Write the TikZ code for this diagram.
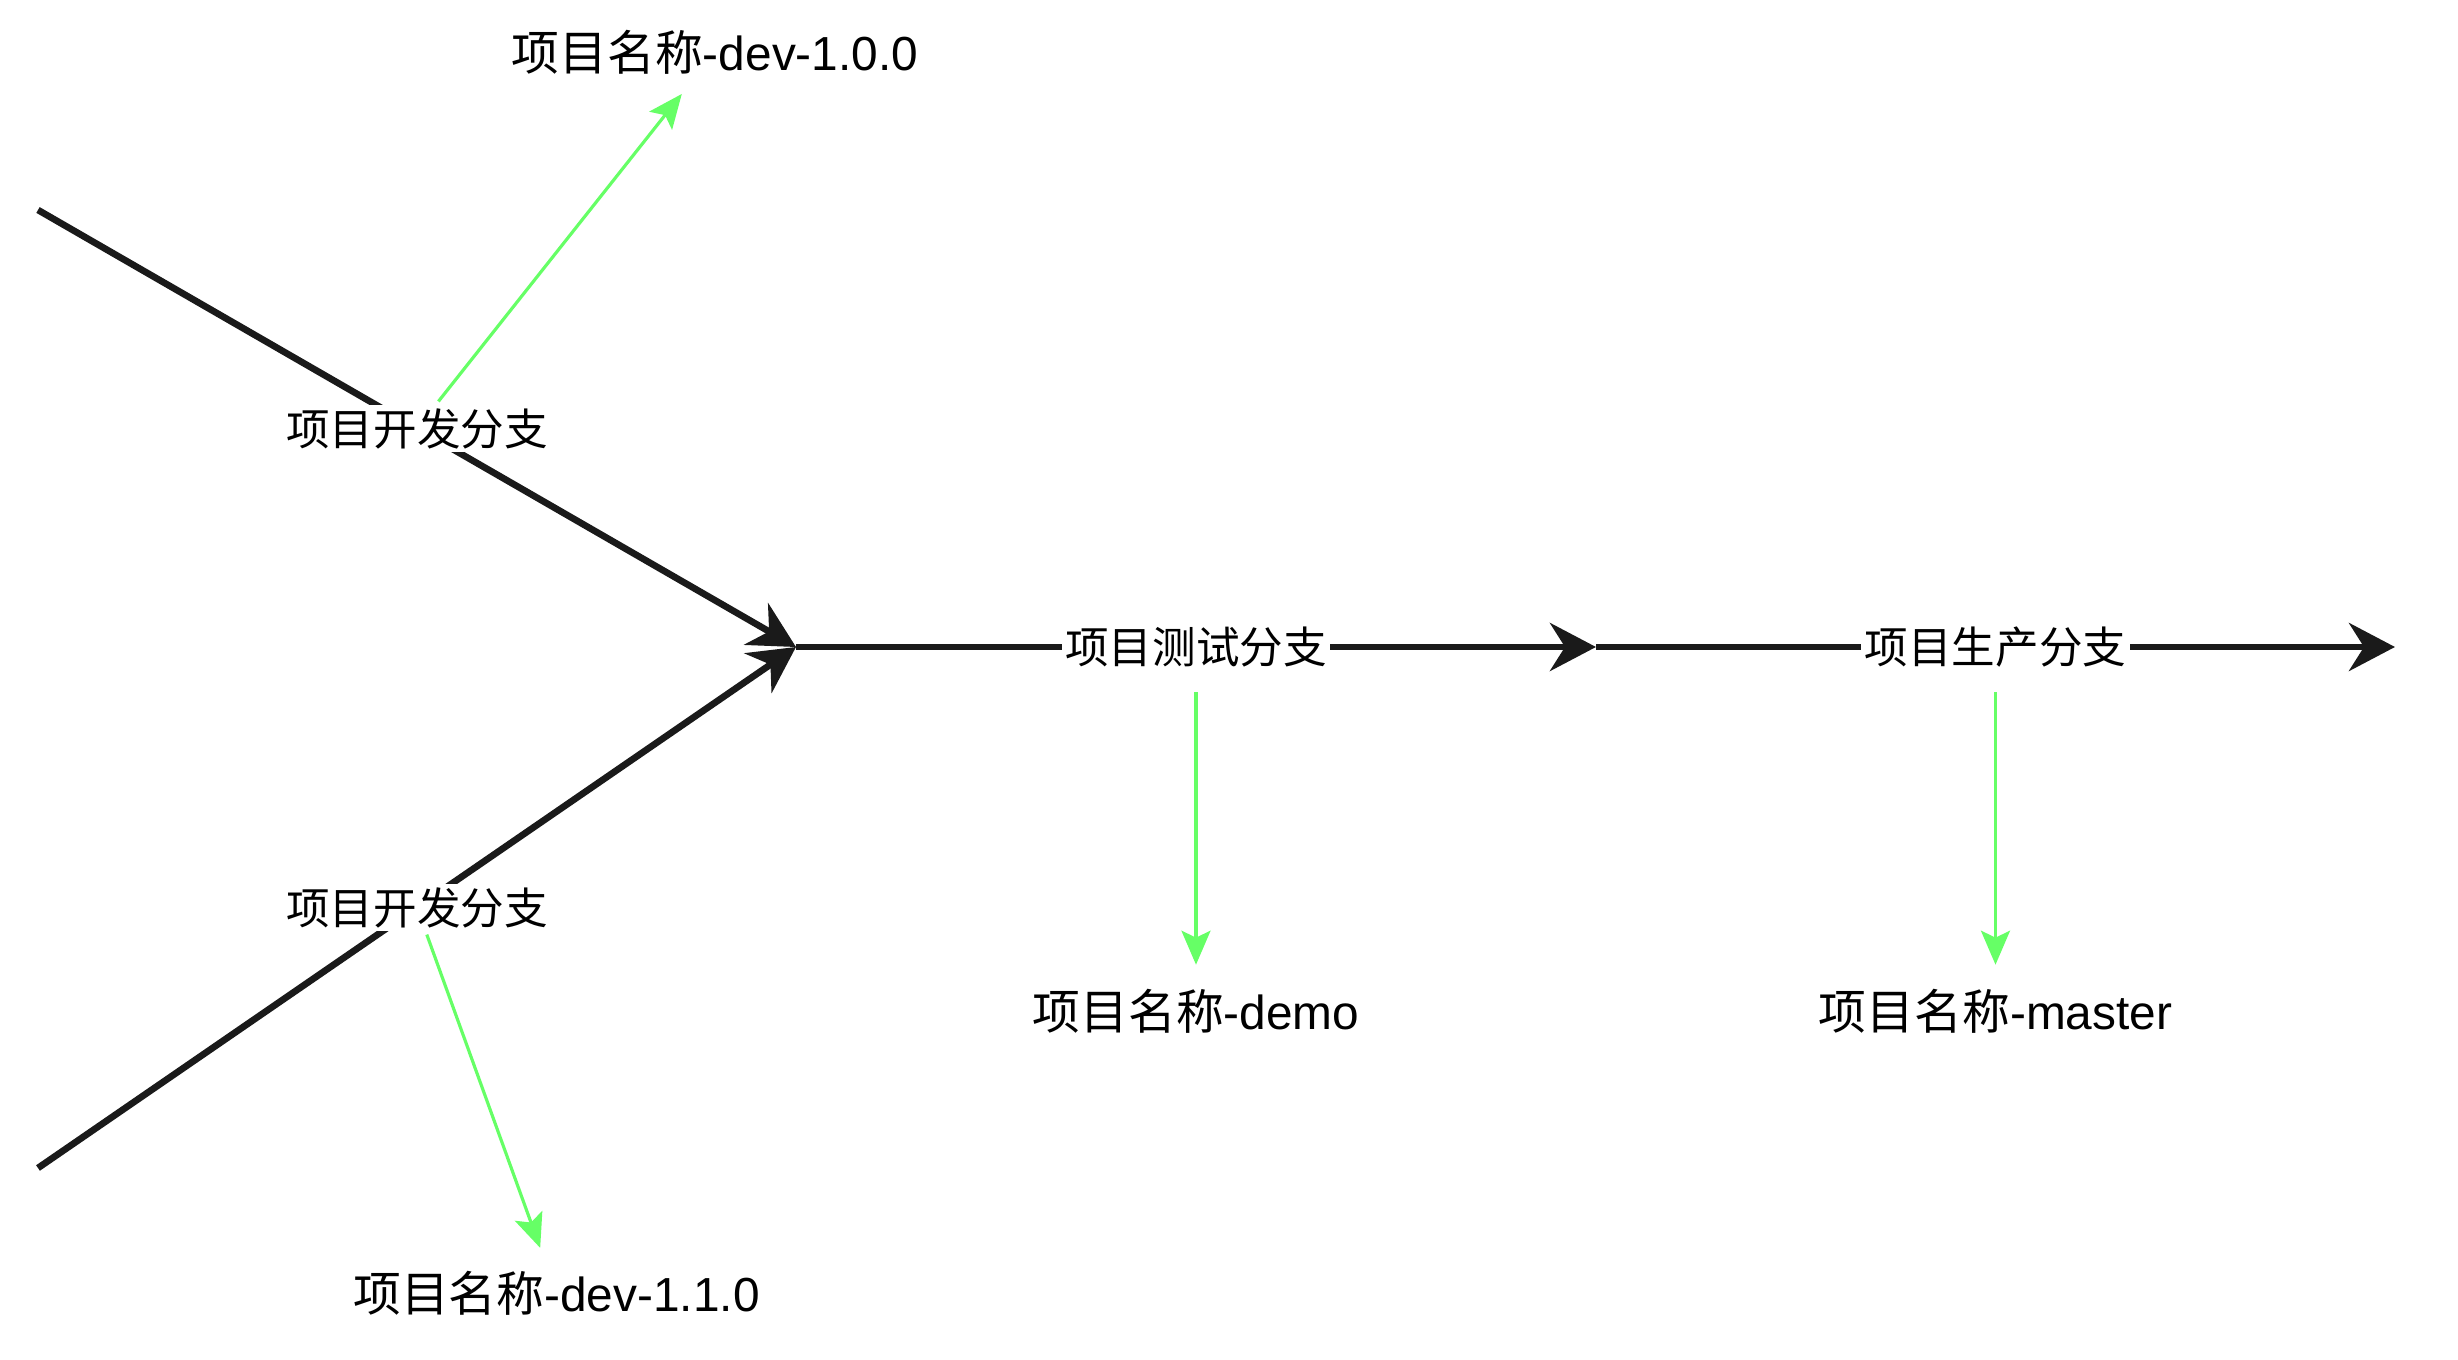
\documentclass[tikz,border=0pt]{standalone}
\usepackage{fontspec}
\setmainfont{Liberation Sans}
\newfontfamily\cjk{Noto Sans CJK SC}
\usetikzlibrary{arrows.meta}
\definecolor{linegray}{RGB}{26,26,26}
\definecolor{taggreen}{RGB}{102,255,102}
\tikzset{
  branch/.style={-{Stealth[length=4.6mm,width=4.8mm,inset=1.5mm]}, line width=1.9pt, linegray},
  vtag/.style={-{Stealth[length=3.4mm,width=2.9mm,inset=0.7mm]}, line width=0.9pt, taggreen, shorten >=2mm},
  lbl/.style={fill=white, inner sep=1pt, text=black, font=\fontsize{12.4}{14}\selectfont\cjk},
  vname/.style={inner sep=1pt, font=\fontsize{13.6}{16}\selectfont}
}
\begin{document}
\begin{tikzpicture}
\useasboundingbox (0,0) rectangle (24.58,-13.60);
\coordinate (tl) at (0.38,-2.10);
\coordinate (bl) at (0.38,-11.68);
\coordinate (mrg) at (7.96,-6.47);
\coordinate (tst) at (15.96,-6.47);
\coordinate (prd) at (23.95,-6.47);
\draw[branch] (tl) -- node[lbl] (dev1) {项目开发分支} (mrg);
\draw[branch] (bl) -- node[lbl] (dev2) {项目开发分支} (mrg);
\draw[branch] (mrg) -- node[lbl] (test) {项目测试分支} (tst);
\draw[branch] (tst) -- node[lbl] (prod) {项目生产分支} (prd);
\node[vname] (v100) at (7.15,-0.52) {{\cjk 项目名称}-dev-1.0.0};
\node[vname] (v110) at (5.565,-12.93) {{\cjk 项目名称}-dev-1.1.0};
\node[vname] (demo) at (11.96,-10.11) {{\cjk 项目名称}-demo};
\node[vname] (mstr) at (19.955,-10.11) {{\cjk 项目名称}-master};
\draw[vtag] (dev1) -- (v100);
\draw[vtag] (dev2) -- (v110);
\draw[vtag, shorten <=1.8mm] (test) -- (demo);
\draw[vtag, shorten <=1.8mm] (prod) -- (mstr);
\end{tikzpicture}
\end{document}
